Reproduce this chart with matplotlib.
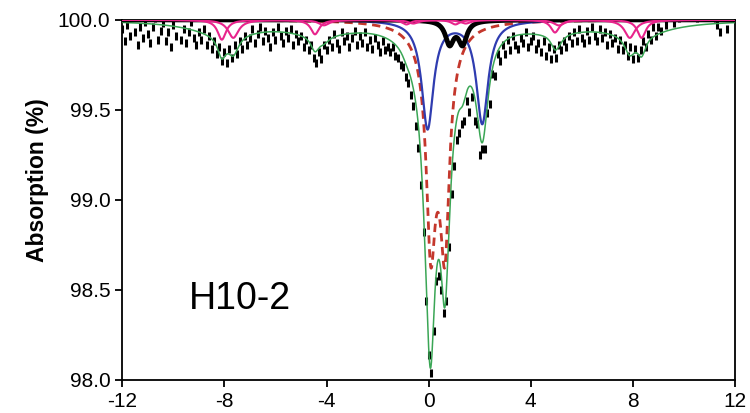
import numpy as np
import matplotlib.pyplot as plt

plt.rcParams['font.family'] = ['Liberation Sans', 'DejaVu Sans']
plt.rcParams['axes.unicode_minus'] = False

# measured spectrum, channel velocities (mm/s) and absorption (%)
velocity = np.linspace(-12, 12, 241)
absorption = [
    99.95, 99.88, 99.97, 99.91, 100.02, 99.93, 99.86, 99.96, 99.90, 99.99,
    99.92, 99.87, 99.96, 100.01, 99.89, 99.94, 99.98, 99.88, 99.93, 99.85,
    99.97, 99.91, 100.02, 99.89, 99.95, 99.87, 99.93, 99.99, 99.90, 99.86,
    99.93, 99.89, 99.95, 99.86, 99.91, 99.84, 99.88, 99.81, 99.85, 99.77,
    99.82, 99.76, 99.84, 99.79, 99.86, 99.81, 99.88, 99.84, 99.91, 99.86,
    99.90, 99.95, 99.87, 99.92, 99.96, 99.88, 99.94, 99.90, 99.85, 99.93,
    99.89, 99.96, 99.91, 99.87, 99.94, 99.90, 99.95, 99.86, 99.92, 99.88,
    99.91, 99.85, 99.89, 99.83, 99.86, 99.79, 99.76, 99.82, 99.78, 99.86,
    99.83, 99.89, 99.85, 99.92, 99.87, 99.84, 99.93, 99.88, 99.91, 99.85,
    99.90, 99.94, 99.86, 99.91, 99.87, 99.93, 99.85, 99.89, 99.84, 99.90,
    99.86, 99.82, 99.88, 99.83, 99.85,
    99.82, 99.85, 99.80, 99.79, 99.75, 99.74, 99.68, 99.65, 99.58, 99.52,
    99.41, 99.29, 99.08, 98.82, 98.44, 98.14, 98.04, 98.27, 98.55, 98.58,
    98.50, 98.37, 98.44, 98.74, 99.03, 99.19, 99.33, 99.37, 99.42, 99.44,
    99.55, 99.49, 99.57, 99.44, 99.42, 99.25, 99.28, 99.28, 99.48, 99.53,
    99.70, 99.69, 99.81, 99.77, 99.86, 99.81,
    99.89, 99.83, 99.91, 99.86, 99.84, 99.90, 99.87, 99.93, 99.85, 99.88,
    99.91, 99.84, 99.87, 99.82, 99.88, 99.80, 99.85, 99.78, 99.84, 99.79,
    99.86, 99.83, 99.88, 99.85, 99.91, 99.87, 99.93, 99.88, 99.95, 99.90,
    99.87, 99.94, 99.89, 99.96, 99.91, 99.88, 99.95, 99.90, 99.93, 99.86,
    99.92, 99.87, 99.90, 99.84, 99.89, 99.83, 99.86, 99.80, 99.85, 99.78,
    99.84, 99.79, 99.83, 99.88, 99.85, 99.92, 99.89, 99.96, 99.91, 99.96,
    99.94, 100.03, 99.97, 100.02, 100.05, 99.98, 100.04, 100.01, 100.06, 100.03,
    100.02, 100.05, 100.03, 100.07, 100.01, 100.04, 100.06, 100.02, 100.05, 100.03,
    100.04, 100.01, 99.97, 99.93, 100.03, 100.05, 99.95, 100.02, 100.04, 100.03,
]

# fitted sub-spectra: line positions (mm/s), depths (%), half widths (mm/s)
red_pos = [0.08, 0.64, 0.36]
red_depth = [0.93, 0.93, 0.44]
red_hw = [0.2, 0.2, 0.5]

blue_pos = [-0.04, 2.1]
blue_depth = [0.6, 0.57]
blue_hw = [0.28, 0.28]

black_pos = [0.82, 1.33]
black_depth = [0.128, 0.128]
black_hw = [0.2, 0.2]

pink1_pos = [-8.1, -4.45, -0.87, 1.05, 4.95, 8.34]
pink1_depth = [0.11, 0.08, 0.025, 0.025, 0.07, 0.10]
pink1_hw = [0.2] * 6

pink2_pos = [-7.65, -4.1, -0.6, 1.45, 5.1, 7.88]
pink2_depth = [0.10, 0.03, 0.02, 0.02, 0.03, 0.10]
pink2_hw = [0.25] * 6

# broad magnetic part, only in the total fit
broad_pos = [-8.0, -4.3, -0.8, 1.2, 4.9, 8.2]
broad_depth = [0.07, 0.06, 0.01, 0.01, 0.04, 0.07]
broad_hw = [1.5] * 6


def lorentz(v, pos, depth, hw):
    s = np.zeros_like(v)
    for c, d, w in zip(pos, depth, hw):
        s += d / (1 + ((v - c) / w) ** 2)
    return s


v = np.linspace(-12, 12, 2401)
red = lorentz(v, red_pos, red_depth, red_hw)
blue = lorentz(v, blue_pos, blue_depth, blue_hw)
black = lorentz(v, black_pos, black_depth, black_hw)
pink1 = lorentz(v, pink1_pos, pink1_depth, pink1_hw)
pink2 = lorentz(v, pink2_pos, pink2_depth, pink2_hw)
broad = lorentz(v, broad_pos, broad_depth, broad_hw)
total = red + blue + black + pink1 + pink2 + broad

fig = plt.figure(figsize=(7.5, 4.13), dpi=100)
ax = fig.add_axes([0.163, 0.08, 0.817, 0.872])

ax.plot(velocity, absorption, linestyle='none', marker='|', markersize=5.5,
        markeredgewidth=2.2, color='black', zorder=2)
ax.plot(v, 100 - total, color='#3aa655', lw=1.1, zorder=3)
ax.plot(v, 100 - red, color='#c4372c', lw=2.0, dashes=(3, 2), zorder=4)
ax.plot(v, 100 - blue, color='#2f3cb0', lw=1.6, zorder=4)
ax.plot(v, 100 - black, color='black', lw=3.5, zorder=5)
ax.plot(v, 100 - pink1, color='#e8248c', lw=1.5, zorder=6)
ax.plot(v, 100 - pink2, color='#e8248c', lw=1.5, zorder=6)

ax.text(-9.4, 98.45, 'H10-2', fontsize=27, ha='left', va='center')

ax.set_xlim(-12, 12)
ax.set_ylim(98.0, 100.0)
ax.set_xticks([-12, -8, -4, 0, 4, 8, 12])
ax.set_yticks([98.0, 98.5, 99.0, 99.5, 100.0])
ax.set_yticklabels(['98.0', '98.5', '99.0', '99.5', '100.0'])
ax.tick_params(direction='out', length=5, width=1.3, labelsize=15,
               top=False, right=False)
for s in ax.spines.values():
    s.set_linewidth(1.3)
ax.set_ylabel('Absorption (%)', fontsize=16.5, fontweight='bold')
ax.yaxis.set_label_coords(-0.119, 0.555)

fig.savefig('out.png', dpi=100)
